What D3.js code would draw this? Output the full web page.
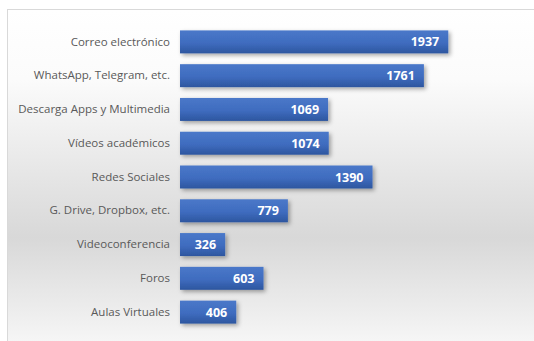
<!DOCTYPE html>
<html>
<head>
<meta charset="utf-8">
<script src="https://cdn.jsdelivr.net/npm/d3@7"></script>
<style>
  html, body { margin: 0; padding: 0; background: #ffffff; }
  svg { display: block; }
</style>
</head>
<body>
<svg id="chart" width="534" height="341"></svg>
<script>
// Herramientas digitales y número de usos
const categories = [
  "Correo electrónico",
  "WhatsApp, Telegram, etc.",
  "Descarga Apps y Multimedia",
  "Vídeos académicos",
  "Redes Sociales",
  "G. Drive, Dropbox, etc.",
  "Videoconferencia",
  "Foros",
  "Aulas Virtuales"
];
const values = [1937, 1761, 1069, 1074, 1390, 779, 326, 603, 406];

const W = 534, H = 341;
const svg = d3.select("#chart");
const defs = svg.append("defs");

// Chart area background: white fading to grey, then back to light
const bg = defs.append("linearGradient")
  .attr("id", "bgGrad").attr("x1", 0).attr("y1", 0).attr("x2", 0).attr("y2", 1);
bg.append("stop").attr("offset", "0%").attr("stop-color", "#ffffff");
bg.append("stop").attr("offset", "20%").attr("stop-color", "#fbfbfb");
bg.append("stop").attr("offset", "65%").attr("stop-color", "#d8d8d8");
bg.append("stop").attr("offset", "85%").attr("stop-color", "#ececec");
bg.append("stop").attr("offset", "100%").attr("stop-color", "#fbfbfb");

// Bar fill: lighter blue on top, darker at the bottom
const barGrad = defs.append("linearGradient")
  .attr("id", "barGrad").attr("x1", 0).attr("y1", 0).attr("x2", 0).attr("y2", 1);
barGrad.append("stop").attr("offset", "0%").attr("stop-color", "#4a78c9");
barGrad.append("stop").attr("offset", "55%").attr("stop-color", "#3f6cbf");
barGrad.append("stop").attr("offset", "100%").attr("stop-color", "#2d569f");

const shadow = defs.append("filter").attr("id", "barShadow")
  .attr("x", "-10%").attr("y", "-30%").attr("width", "130%").attr("height", "180%");
shadow.append("feDropShadow")
  .attr("dx", 2).attr("dy", 2).attr("stdDeviation", 2)
  .attr("flood-color", "#000").attr("flood-opacity", 0.35);

// Frame
svg.append("rect")
  .attr("x", 7.5).attr("y", 9.5)
  .attr("width", W + 10).attr("height", H + 10)
  .attr("fill", "url(#bgGrad)")
  .attr("stroke", "#d9d9d9").attr("stroke-width", 1);

const x = d3.scaleLinear().domain([0, 2000]).range([180, 457]);
const y = d3.scaleBand().domain(categories).range([25, 329])
  .paddingInner(0.32).paddingOuter(0.16);

// Category axis (labels only)
const yAxis = svg.append("g")
  .attr("transform", `translate(${x(0)},0)`)
  .call(d3.axisLeft(y).tickSize(0).tickPadding(10));
yAxis.select(".domain").remove();
yAxis.selectAll("text")
  .attr("fill", "#595959")
  .style("font-family", "'Open Sans', 'Noto Sans', sans-serif")
  .style("font-size", "11.5px");

const data = categories.map((c, i) => ({ c, v: values[i] }));

svg.append("g").selectAll("rect")
  .data(data).join("rect")
  .attr("x", x(0))
  .attr("y", d => y(d.c))
  .attr("width", d => x(d.v) - x(0))
  .attr("height", y.bandwidth())
  .attr("fill", "url(#barGrad)")
  .attr("filter", "url(#barShadow)");

svg.append("g").selectAll("text")
  .data(data).join("text")
  .attr("x", d => x(d.v) - 9)
  .attr("y", d => y(d.c) + y.bandwidth() / 2)
  .attr("dy", "0.36em")
  .attr("text-anchor", "end")
  .attr("fill", "#ffffff")
  .style("font-family", "'Open Sans', 'Noto Sans', sans-serif")
  .style("font-weight", "bold")
  .style("font-size", "12.5px")
  .text(d => d.v);
</script>
</body>
</html>
